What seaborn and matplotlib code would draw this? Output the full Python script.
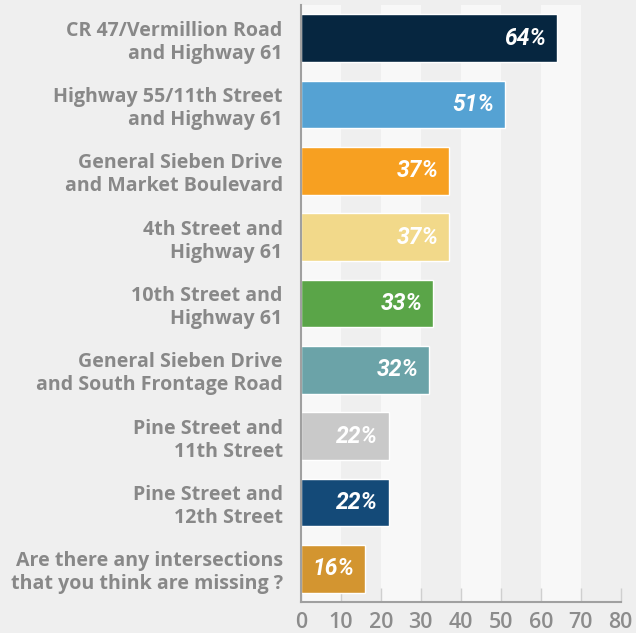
import matplotlib
matplotlib.use("Agg")
import matplotlib.pyplot as plt
import seaborn as sns
import pandas as pd

categories = [
    "CR 47/Vermillion Road\nand Highway 61",
    "Highway 55/11th Street\nand Highway 61",
    "General Sieben Drive\nand Market Boulevard",
    "4th Street and\nHighway 61",
    "10th Street and\nHighway 61",
    "General Sieben Drive\nand South Frontage Road",
    "Pine Street and\n11th Street",
    "Pine Street and\n12th Street",
    "Are there any intersections\nthat you think are missing ?",
]
values = [64, 51, 37, 37, 33, 32, 22, 22, 16]
colors = ["#062640", "#55a2d3", "#f7a021", "#f2d98a", "#5aa548",
          "#6ba3a8", "#c9c9c9", "#144a78", "#d39530"]
xticks = [0, 10, 20, 30, 40, 50, 60, 70, 80]

sns.set_theme(style="white")
plt.rcParams['font.family'] = ['Open Sans', 'DejaVu Sans']

bg = "#efefef"
fig = plt.figure(figsize=(6.36, 6.33), dpi=100, facecolor=bg)
ax = fig.add_axes([300.7/636, 31/633, 320/636, 597/633])
ax.set_facecolor(bg)

for x0 in range(0, 80, 20):
    ax.axvspan(x0, x0 + 10, color="#f8f8f8", zorder=0, lw=0)

df = pd.DataFrame({"cat": categories, "val": values})
sns.barplot(data=df, x="val", y="cat", hue="cat", palette=colors,
            legend=False, width=0.72, saturation=1, ax=ax, zorder=2)

ax.set_xlim(0, 80)
ax.set_ylim(8.5, -0.5)
ax.set_xlabel("")
ax.set_ylabel("")
ax.set_xticks(xticks)
ax.set_xticklabels([str(t) for t in xticks], fontsize=15.5, color="#8c8c8c",
                   fontweight="semibold")
ax.tick_params(axis="x", direction="in", length=10, width=1, color="#cfcfcf",
               pad=7, bottom=True)
ax.tick_params(axis="y", length=0, pad=13)
for lab in ax.get_yticklabels():
    lab.set_fontsize(14.1)
    lab.set_fontweight("bold")
    lab.set_color("#888888")
    lab.set_linespacing(1.2)
    lab.set_horizontalalignment("right")
    lab.set_multialignment("right")

for s in ["top", "right"]:
    ax.spines[s].set_visible(False)
for s in ["left", "bottom"]:
    ax.spines[s].set_color("#a0a0a0")
    ax.spines[s].set_linewidth(1.5)
    ax.spines[s].set_zorder(3)

for i, v in enumerate(values):
    ax.annotate(f"{v}%", xy=(v, i), xytext=(-7.5, 0), textcoords="offset points",
                ha="right", va="center", color="white", fontsize=16.5,
                fontweight="bold", fontstyle="italic", family="Roboto", zorder=4)

fig.savefig("out.png", dpi=100, facecolor=bg)
